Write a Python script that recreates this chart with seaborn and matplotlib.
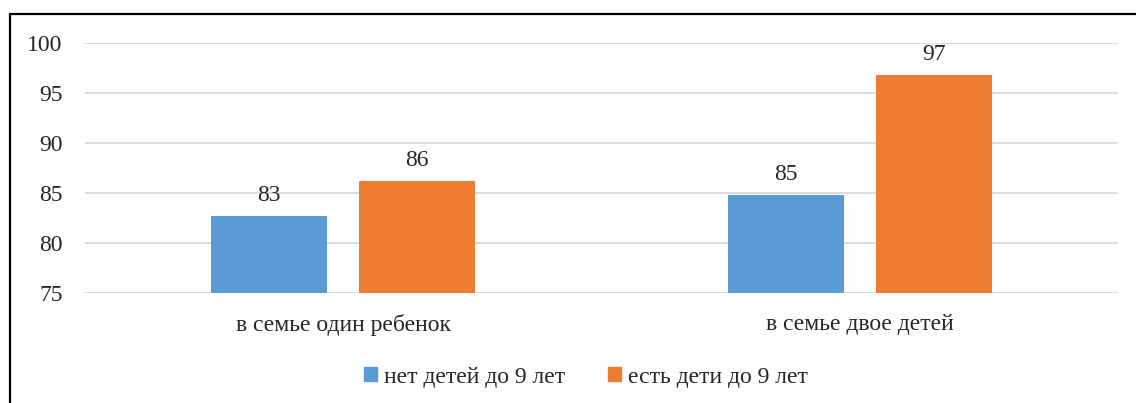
import pandas as pd
import matplotlib.pyplot as plt
import seaborn as sns
from matplotlib.lines import Line2D

# chart data
categories = ['в семье один ребенок', 'в семье двое детей']
series = ['нет детей до 9 лет', 'есть дети до 9 лет']
no_kids_under9 = [82.7, 84.8]
kids_under9 = [86.2, 96.8]
colors = ['#5B9BD5', '#ED7D31']

df = pd.DataFrame({
    'category': categories * 2,
    'series': [series[0]] * 2 + [series[1]] * 2,
    'value': no_kids_under9 + kids_under9,
})

sns.set_theme(style='white')
plt.rcParams['font.family'] = ['Liberation Serif', 'DejaVu Serif']

W, H = 1136, 403
FS = 17
fig = plt.figure(figsize=(W / 100, H / 100), dpi=100)
ax = fig.add_axes([85 / W, 1 - 293 / H, (1118 - 85) / W, 250 / H])

sns.barplot(data=df, x='category', y='value', hue='series', order=categories,
            hue_order=series, palette=colors, width=0.574, dodge=True,
            saturation=1, ax=ax, legend=False)

# shrink bars to leave a gap inside each group, bars start at the axis floor
bar_w = 0.225
for p in ax.patches:
    cx = p.get_x() + p.get_width() / 2
    p.set_x(cx - bar_w / 2)
    p.set_width(bar_w)
    h = p.get_height()
    p.set_y(75)
    p.set_height(h - 75)
    p.set_edgecolor('none')

ax.set_ylim(75, 100)
ax.set_xlim(-0.5, 1.5)
ax.set_yticks(range(75, 101, 5))
ax.yaxis.grid(True, color='#D9D9D9', linewidth=1.3)
ax.set_axisbelow(True)
for s in ax.spines.values():
    s.set_visible(False)
ax.set_xlabel('')
ax.set_ylabel('')
ax.tick_params(axis='y', labelsize=FS, pad=16, length=0)
ax.tick_params(axis='x', labelsize=FS, pad=15, length=0)

# value labels
for p in ax.patches:
    top = p.get_y() + p.get_height()
    ax.annotate(f'{top:.0f}', (p.get_x() + p.get_width() / 2, top),
                xytext=(0, 7), textcoords='offset points',
                ha='center', va='bottom', fontsize=FS)

# legend
handles = [plt.Rectangle((0, 0), 1, 1, color=c) for c in colors]
fig.legend(handles, series, loc='center', bbox_to_anchor=(586 / W, 1 - 377 / H),
           ncol=2, frameon=False, fontsize=FS, handlelength=0.55,
           handleheight=0.55, handletextpad=0.3, columnspacing=1.8)

# outer frame (top and left edges visible)
fig.add_artist(Line2D([10 / W, 1.0], [1 - 14 / H, 1 - 14 / H], color='black',
                      linewidth=1.6, transform=fig.transFigure))
fig.add_artist(Line2D([10 / W, 10 / W], [1 - 14 / H, 0.0], color='black',
                      linewidth=1.6, transform=fig.transFigure))

fig.savefig('out.png', dpi=100, facecolor='white')
